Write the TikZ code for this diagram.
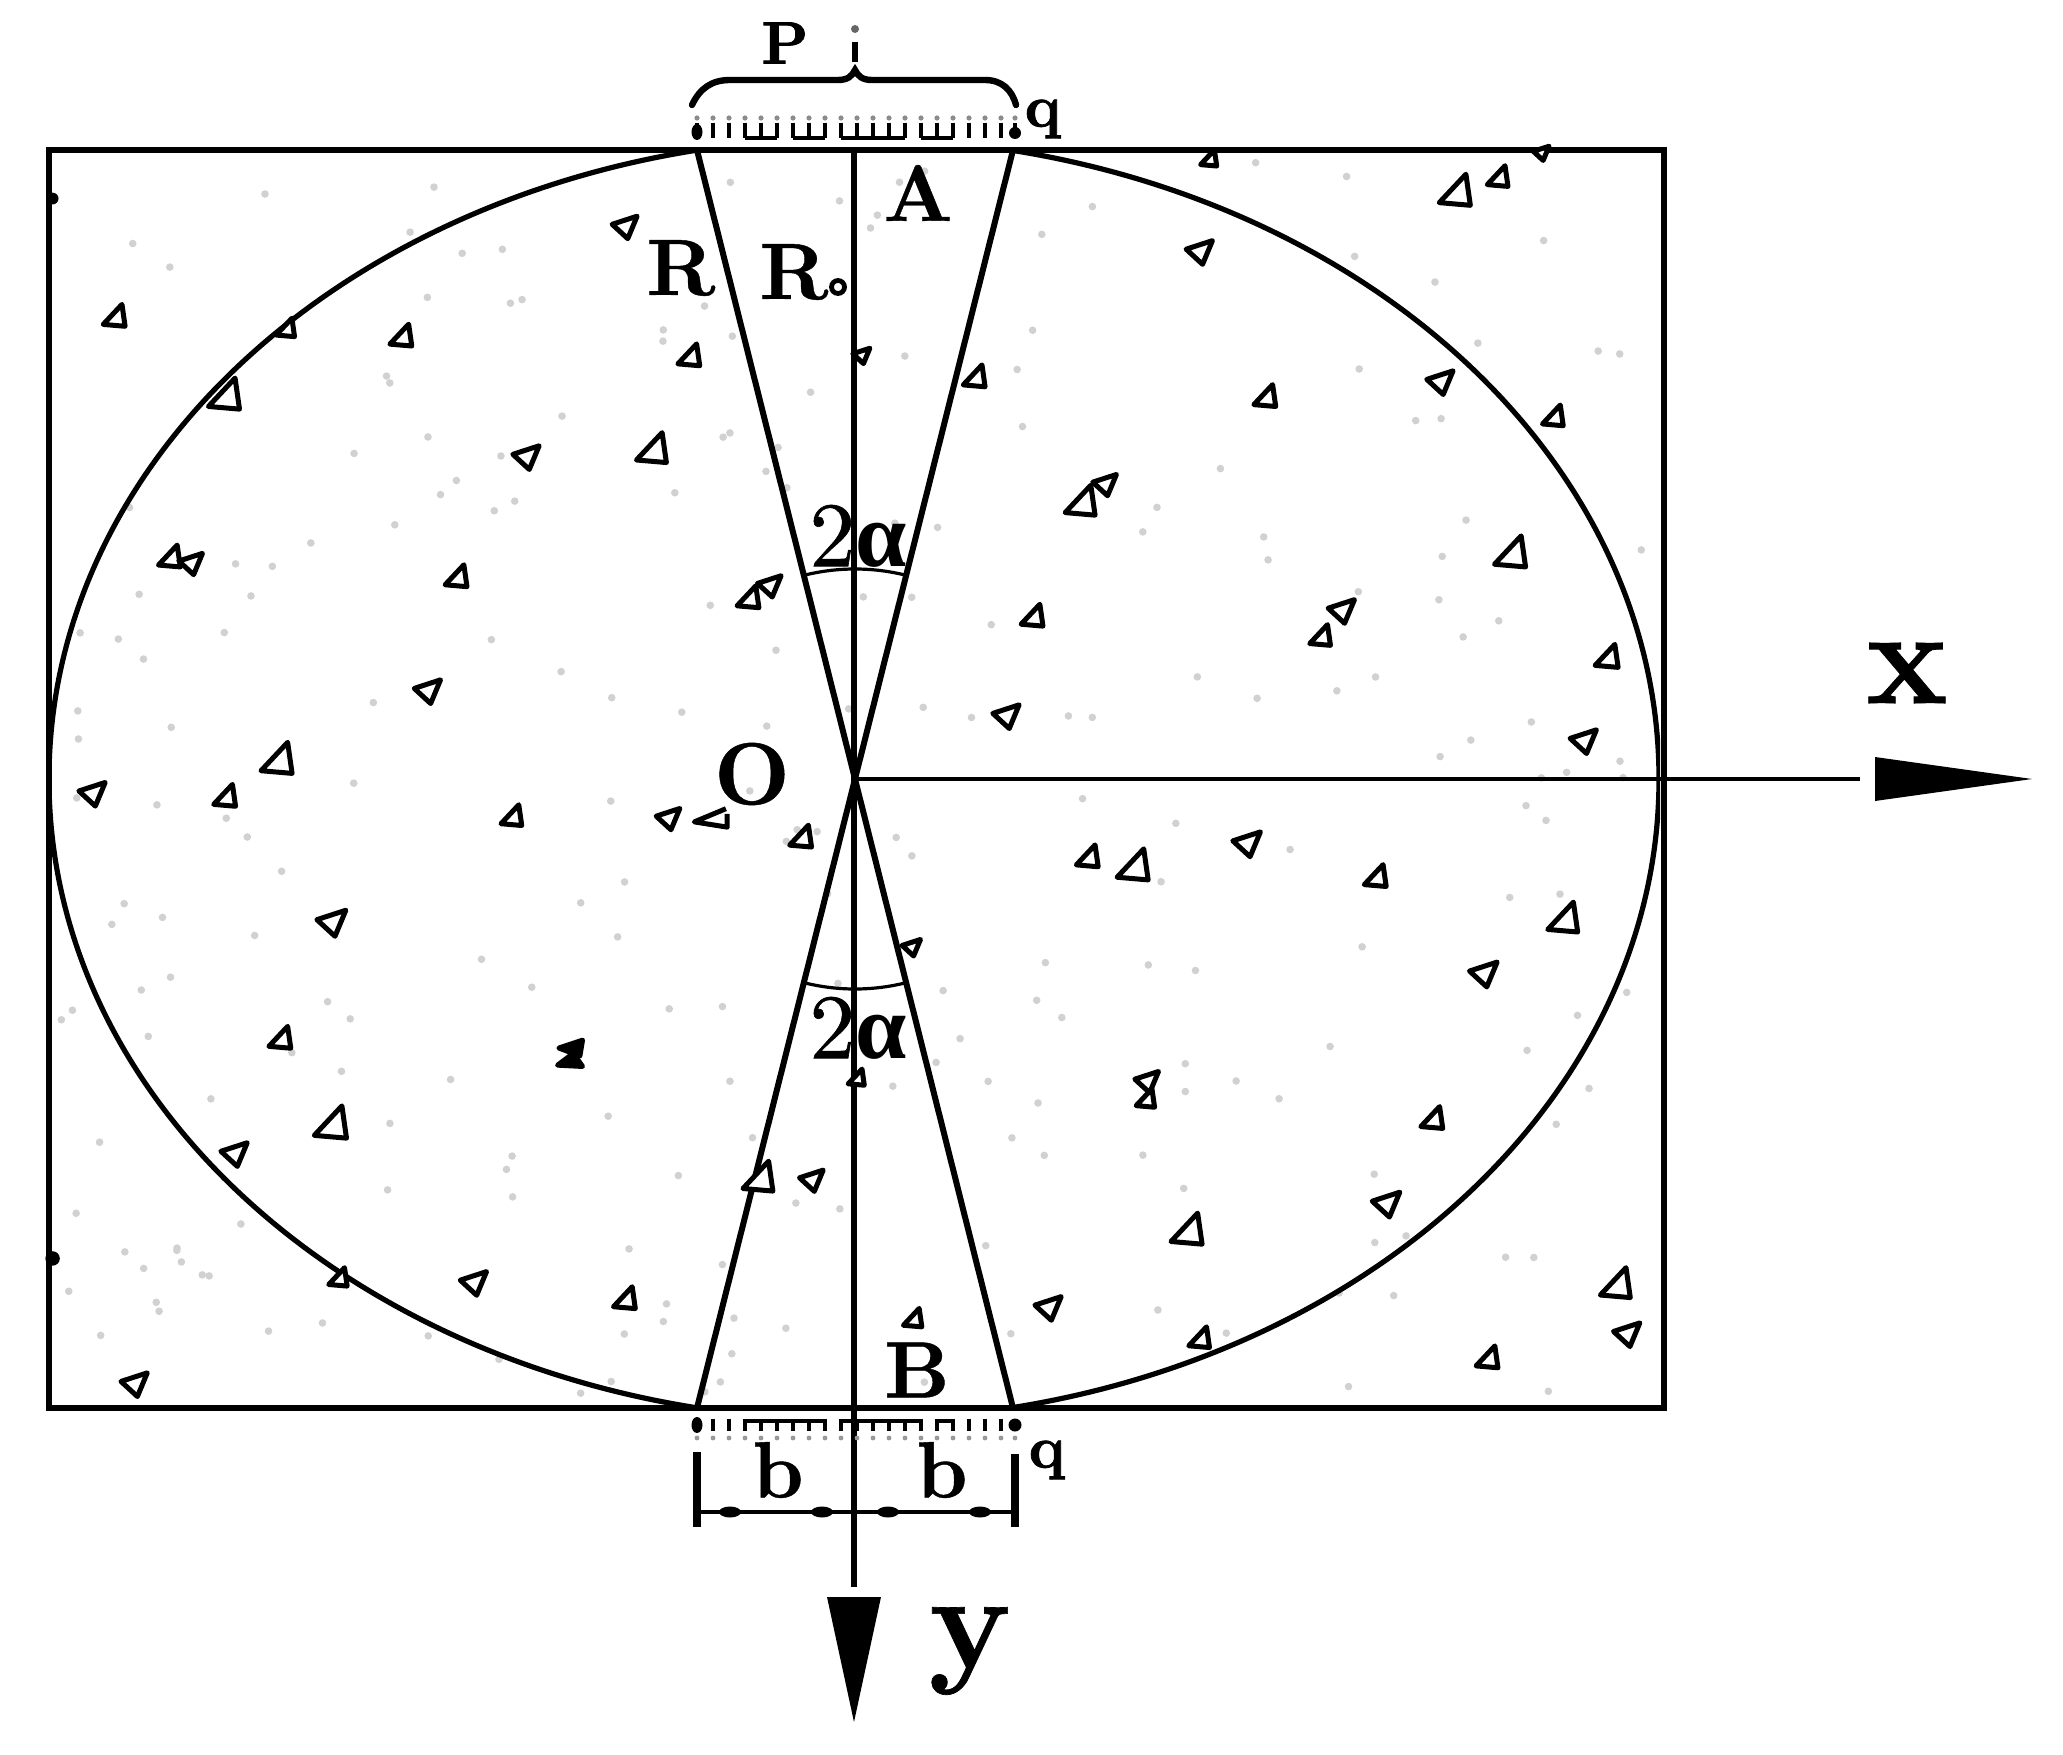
\documentclass[tikz,border=0pt]{standalone}
\usepackage{fontspec}
\newfontfamily\greekf{Liberation Serif}
\newfontfamily\heavyf[Extension=.otf,FakeBold=1.2]{lmroman10-bold}
\newfontfamily\labf[Extension=.otf,FakeBold=0.5]{lmroman10-bold}
\newfontfamily\midf[Extension=.otf,FakeBold=0.7]{lmroman10-regular}
\usetikzlibrary{calc}
\tikzset{
  heavy/.style={line width=3pt,black},
  medium/.style={line width=2.6pt,black},
  wedge/.style={line width=3pt,black},
  tri/.style={line width=2.5pt,black,line join=round,fill=white},
  lab/.style={inner sep=0pt,font=\labf\fontsize{40}{40}\selectfont},
  smalllab/.style={inner sep=0pt,font=\heavyf\fontsize{30}{30}\selectfont},
  anglelab/.style={inner sep=0pt,font=\midf\fontsize{46}{46}\selectfont},
  axislab/.style={inner sep=0pt,font=\labf\fontsize{68}{68}\selectfont},
  tick/.style={line width=2.4pt,black},
  speck/.style={fill=black!18}
}
\begin{document}
\begin{tikzpicture}[x=0.5pt,y=-0.5pt]
\useasboundingbox (0,0) rectangle (2063,1755);
\fill[white] (0,0) rectangle (2063,1755);
% key points
\coordinate (O) at (855,779);
\coordinate (TL) at (697,150);
\coordinate (TR) at (1013,150);
\coordinate (BL) at (697,1408);
\coordinate (BR) at (1013,1408);
\coordinate (TA) at (854,150);
\coordinate (YE) at (854,1587);
\coordinate (XE) at (1860,779);
% speckles
\pgfmathsetseed{23}
\foreach \i in {1,...,240}{
  \pgfmathsetmacro{\sx}{60+1590*rnd}
  \pgfmathsetmacro{\sy}{160+1240*rnd}
  \fill[speck] (\sx,\sy) circle (3.8);
}
% ellipse clipped by frame
\begin{scope}
  \clip (49,150) rectangle (1660,1408);
  \draw[medium] (854,779) ellipse (805 and 641);
\end{scope}
\draw[heavy] (49,150) rectangle (1664,1408);
% wedge lines
\draw[wedge] (TL) -- (BR);
\draw[wedge] (TR) -- (BL);
% axes
\draw[line width=3.2pt] (TA) -- (YE);
\draw[line width=2.4pt] (O) -- (XE);
\fill (1875,757) -- (2032,779) -- (1875,801) -- cycle;
\fill (827,1597) -- (881,1597) -- (854,1722) -- cycle;
% angle arcs
\draw[line width=1.6pt] ($(O)+(76:210 and -210)$) arc[start angle=-76,end angle=-104,radius=210];
\draw[line width=1.6pt] ($(O)+(76:210)$) arc[start angle=76,end angle=104,radius=210];
% brace
\draw[line width=3.2pt,line cap=round] (692,105) .. controls (700,88) and (712,80) .. (730,80) -- (838,80) .. controls (848,80) and (852,76) .. (855,70) .. controls (858,76) and (862,80) .. (872,80) -- (985,80) .. controls (1002,80) and (1012,90) .. (1016,105);
% top load strip
\foreach \tx in {697,713,729,745,761,777,793,809,825,841,857,873,889,905,921,937,953,969,985,1001,1015}{
  \draw[tick] (\tx,123) -- (\tx,138);
  \fill[black!45] (\tx,118) circle (2.6);
}
\draw[line width=2.4pt] (745,138) -- (777,138) (793,138) -- (825,138) (841,138) -- (905,138) (921,138) -- (953,138);
\fill (697,132) ellipse (5.5 and 8);
\fill (1015,133) circle (6);
% bottom load strip
\foreach \tx in {697,713,729,745,761,777,793,809,825,841,857,873,889,905,921,937,953,969,985,1001,1015}{
  \draw[tick] (\tx,1419) -- (\tx,1431);
  \fill[black!40] (\tx,1438) circle (2.4);
}
\draw[line width=2.4pt] (745,1421) -- (825,1421) (841,1421) -- (921,1421) (937,1421) -- (953,1421);
\fill (697,1425) ellipse (5.5 and 8);
\fill (1015,1425) circle (6.5);
% dimension
\coordinate (DL) at (697,1512);
\coordinate (DR) at (1015,1512);
\draw[line width=3.6pt] (697,1452) -- (697,1527);
\draw[line width=3.6pt] (1015,1454) -- (1015,1527);
\draw[line width=2.4pt] (DL) -- (DR);
\foreach \bx in {730,822,888,980}{\fill (\bx,1512) ellipse (11 and 5.5);}
% aggregate triangles (reference-view coordinates)
\begin{scope}[scale=1.315]
% flat base, tip up and to the right
\foreach \x/\y/\r in {
920/121/7,1108/146/13.5,1140/135/9,88/241/9.5,218/250/8,306/256/9.5,172/301/13.5,525/271/9.5,742/287/9.5,
963/302/9.5,1182/317/9,497/342/13,823/382/13,130/424/9.5,348/439/9.5,570/455/9.5,1150/421/13.5,786/469/9.5,
1005/484/9,1223/500/10,212/578/13.5,172/606/9.5,390/621/9,610/637/9.5,828/652/9.5,863/659/13.5,1047/667/9.5,
1190/699/13,214/790/9.5,652/820/7,872/836/8,1090/851/9.5,253/855/14,578/896/13,904/936/13.5,258/972/8,
476/988/9.5,695/1003/8,1230/977/13,913/1018/9,1132/1033/9.5}{
  \draw[tri,shift={(\x,\y)}] (-\r,0.6*\r) -- (0.5*\r,-\r) -- (0.75*\r,0.75*\r) -- cycle;
}
% tip to the left, narrow end below
\foreach \x/\y/\r in {
840/368/9,1172/116/6,912/191/10,475/172/9.5,655/270/6.5,1095/290/10,400/347/10,145/428/9,585/445/9,1020/464/10,
325/525/10,765/544/10,1204/563/10,70/603/10,508/622/9,948/641/10.5,252/701/11,693/720/7,1128/740/10.5,
178/877/10,617/897/9,1054/915/10.5,360/975/10,797/994/10,1237/1014/10,102/1052/10,872/822/9}{
  \draw[tri,shift={(\x,\y)}] (-\r,-0.15*\r) -- (\r,-0.8*\r) -- (0.25*\r,\r) -- cycle;
}
% damaged aggregate pieces
\draw[tri,fill=none] (552,615) -- (528,625) -- (553,629) -- (553,619);
\draw[tri,fill=black] (425,797) -- (443,791) -- (441,803) -- cycle;
\draw[tri,fill=black] (424,810) -- (436,801) -- (443,811) -- cycle;
\fill (40,151) circle (4.5);
\fill (40,957) circle (5.5);
\end{scope}
% labels
\node[smalllab] (P) at (785,43) {P};
\fill[black!60] (855,29) circle (4);
\draw[line width=3.2pt] (855,42) -- (855,62);
\node[smalllab] (q1) at (1043,119) {q};
\node[smalllab] (q2) at (1047,1460) {q};
\node[lab] (A) at (918,193) {A};
\node[lab] (R) at (681,268) {R};
\node[lab] (R0) at (794,272) {R};
\draw[line width=2.4pt] (838,287) circle (6.5);
\node[lab] (B) at (917,1370) {B};
\node[inner sep=0pt,font=\labf\fontsize{44}{44}\selectfont] (Ol) at (752,774) {O};
\node[anglelab] (a1) at (858,536) {2{\greekf\bfseries α}};
\node[anglelab] (a2) at (858,1028) {2{\greekf\bfseries α}};
\node[lab] (b1) at (778,1470) {b};
\node[lab] (b2) at (942,1470) {b};
\node[axislab] (x) at (1907,673) {x};
\node[axislab] (y) at (970,1651) {y};
\end{tikzpicture}
\end{document}
